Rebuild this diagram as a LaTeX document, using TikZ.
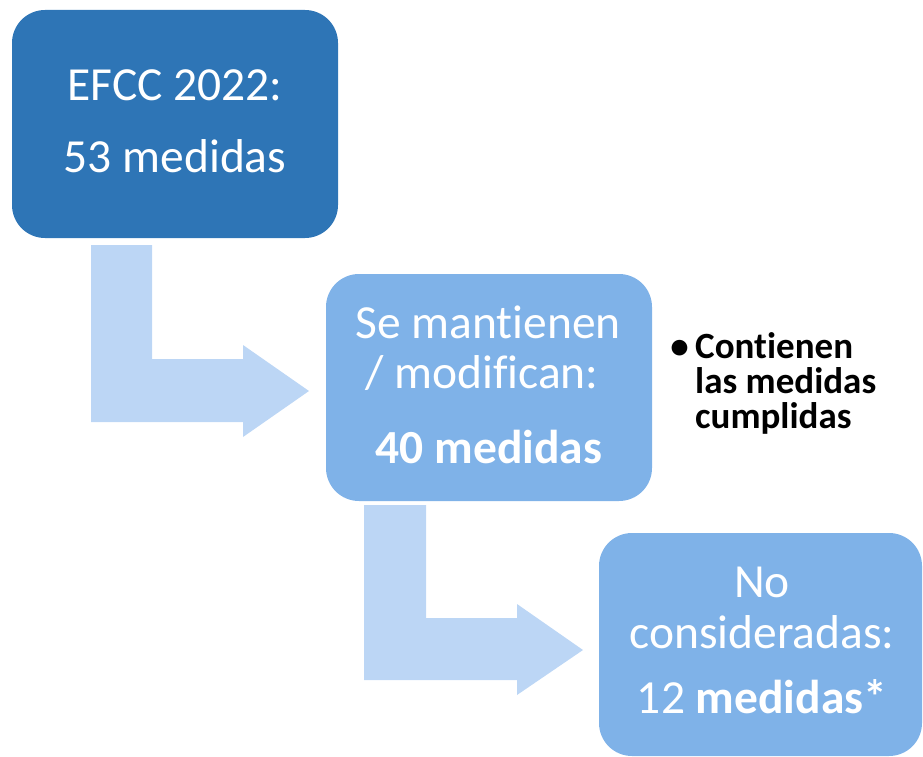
\documentclass[tikz,border=0pt]{standalone}
\usepackage{fontspec}
\setmainfont{Carlito}[Ligatures=NoCommon]
\definecolor{dark}{HTML}{2E75B6}
\definecolor{mid}{HTML}{7FB2E8}
\definecolor{pale}{HTML}{BCD6F5}
\tikzset{
  box/.style={draw=none, rounded corners=33pt, inner sep=0pt},
  big/.style={text=white, anchor=base, inner sep=0pt, font=\fontsize{47.5}{52}\selectfont},
  bul/.style={text=black, anchor=base west, inner sep=0pt, font=\fontsize{37}{40}\selectfont\bfseries},
  bentarrow/.style={fill=pale, draw=none}
}
\begin{document}
\begin{tikzpicture}[x=1pt,y=-1pt]
\useasboundingbox (0,0) rectangle (923,757);
% bent arrows
\fill[bentarrow] (91,245) -- (152,245) -- (152,359) -- (243,359) -- (243,345) -- (309,391) -- (243,437) -- (243,422) -- (91,422) -- cycle;
\fill[bentarrow] (364,505) -- (426,505) -- (426,618) -- (517,618) -- (517,604) -- (583,650) -- (517,695) -- (517,680) -- (364,680) -- cycle;
% boxes
\fill[dark, rounded corners=33pt] (12,10) rectangle (338,238);
\node[box, minimum width=326pt, minimum height=228pt] (b1) at (175,124) {};
\fill[mid, rounded corners=33pt] (326,274) rectangle (652,501);
\node[box, minimum width=326pt, minimum height=227pt] (b2) at (489,387.5) {};
\fill[mid, rounded corners=33pt] (599,533) rectangle (922,756);
\node[box, minimum width=323pt, minimum height=223pt] (b3) at (760.5,644.5) {};
% texts
\node[big] (t1a) at (175,101) {EFCC 2022:};
\node[big] (t1b) at (175,172) {53 medidas};
\node[big] (t2a) at (488,338) {Se mantienen};
\node[big] (t2b) at (482,388) {/ modifican:};
\node[big] (t2c) at (489,463) {\bfseries 40 medidas};
\node[big] (t3a) at (762,597) {No};
\node[big] (t3b) at (762,648) {consideradas:};
\node[big] (t3c) at (762,713) {12 \bfseries medidas*};
% bullet text
\node[bul, anchor=base east] (bl) at (689,358) {\textbullet};
\node[bul] (l1) at (695,358) {Contienen};
\node[bul] (l2) at (695,393) {las medidas};
\node[bul] (l3) at (695,428) {cumplidas};
\end{tikzpicture}
\end{document}
